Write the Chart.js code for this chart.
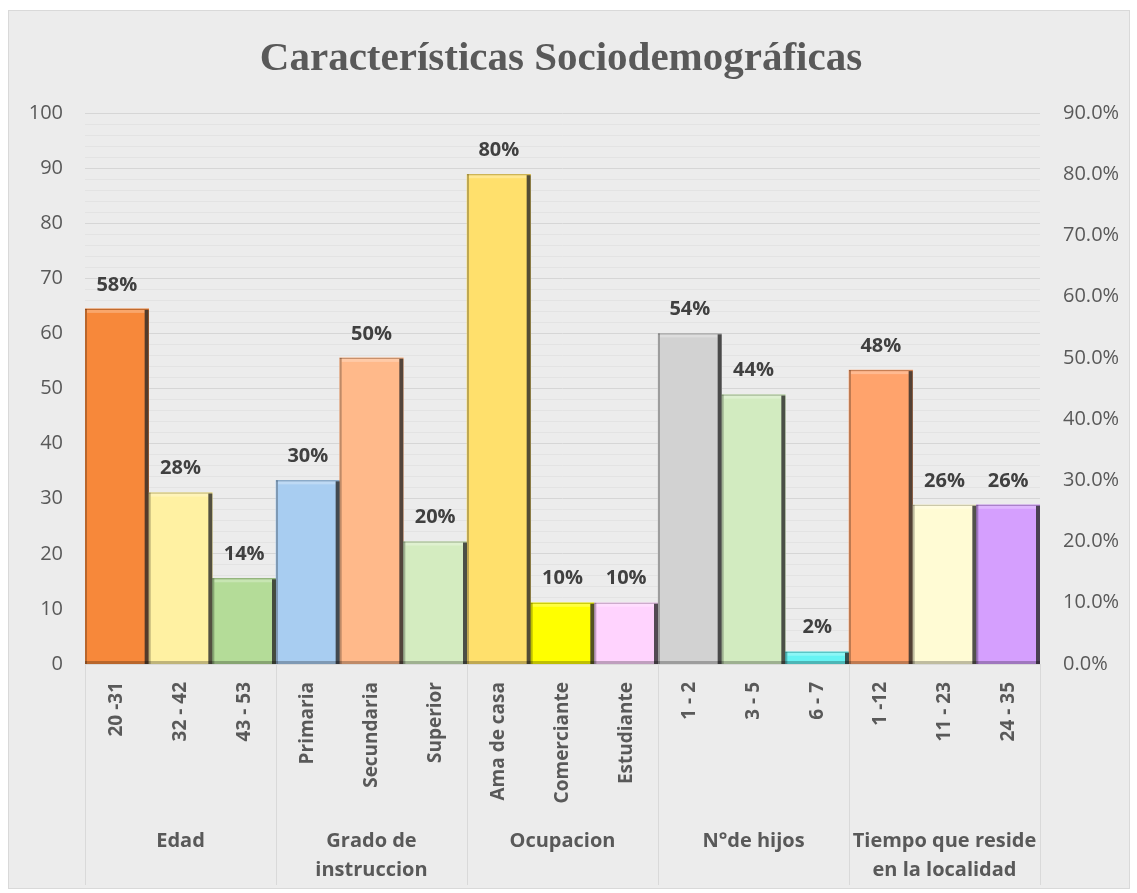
<!DOCTYPE html>
<html>
<head>
<meta charset="utf-8">
<script src="https://cdn.jsdelivr.net/npm/chart.js@4.4.0/dist/chart.umd.min.js"></script>
<style>
  body { margin: 0; background: #ffffff; }
  #caja {
    position: absolute; left: 8px; top: 10px;
    width: 1120px; height: 877px;
    background: #ececec; border: 1px solid #d9d9d9;
  }
</style>
</head>
<body>
<div id="caja"><canvas id="myChart" width="1120" height="877"></canvas></div>
<script>
// datos
const categorias = ["20 -31", "32 - 42", "43 - 53", "Primaria", "Secundaria", "Superior",
  "Ama de casa", "Comerciante", "Estudiante", "1 - 2", "3 - 5", "6 - 7", "1 -12", "11 - 23", "24 - 35"];
const porcentajes = [0.58, 0.28, 0.14, 0.30, 0.50, 0.20, 0.80, 0.10, 0.10, 0.54, 0.44, 0.02, 0.48, 0.26, 0.26];
const grupos = ["Edad", ["Grado de", "instruccion"], "Ocupacion", "N°de hijos", ["Tiempo que reside", "en la localidad"]];
const tamano_grupos = [3, 3, 3, 3, 3];
const colores = ["#f7883a", "#fff1a2", "#b4dc98", "#a8cdf1", "#ffb98a", "#d4ecc0",
  "#ffe06c", "#ffff00", "#ffd3fe", "#d2d2d2", "#d2ebc0", "#66f3f3", "#ffa36c", "#fffbd4", "#d59ffe"];

const gris = "#595959";

// efecto de bisel en las barras
const bisel = {
  id: "bisel",
  afterDatasetsDraw(chart) {
    const ctx = chart.ctx;
    chart.getDatasetMeta(0).data.forEach((bar) => {
      const w = bar.width;
      const x0 = bar.x - w / 2, x1 = bar.x + w / 2;
      const y0 = bar.y, y1 = bar.base;
      const h = y1 - y0;
      ctx.save();
      // brillo superior
      ctx.fillStyle = "rgba(255,255,255,0.25)";
      ctx.fillRect(x0 + 2, y0 + 1, w - 6, Math.min(3, h - 2));
      // sombra derecha
      ctx.fillStyle = "rgba(40,40,40,0.8)";
      ctx.fillRect(x1 - 4, y0 + 1, 4, h - 1);
      // borde izquierdo, arriba y abajo
      ctx.fillStyle = "rgba(0,0,0,0.25)";
      ctx.fillRect(x0, y0, 2, h);
      ctx.fillRect(x0, y0, w, 1);
      ctx.fillRect(x0, y1 - 3, w, 3);
      ctx.restore();
    });
  }
};

// etiquetas de porcentaje encima de cada barra
const etiquetas = {
  id: "etiquetas",
  afterDatasetsDraw(chart) {
    const ctx = chart.ctx;
    ctx.save();
    ctx.font = "bold 20px 'Open Sans'";
    ctx.fillStyle = "#404040";
    ctx.textAlign = "center";
    ctx.textBaseline = "middle";
    chart.getDatasetMeta(0).data.forEach((bar, i) => {
      ctx.fillText(Math.round(porcentajes[i] * 100) + "%", bar.x, bar.y - 24);
    });
    ctx.restore();
  }
};

// nombres de los grupos y separadores bajo el eje x
const grupos_x = {
  id: "grupos_x",
  afterDraw(chart) {
    const ctx = chart.ctx;
    const xs = chart.scales.x;
    const area = chart.chartArea;
    const paso = xs.getPixelForValue(1) - xs.getPixelForValue(0);
    ctx.save();
    ctx.strokeStyle = "#d9d9d9";
    ctx.lineWidth = 1;
    ctx.font = "bold 20px 'Open Sans'";
    ctx.fillStyle = gris;
    ctx.textAlign = "center";
    ctx.textBaseline = "middle";
    let ini = 0;
    tamano_grupos.forEach((n, g) => {
      const izq = xs.getPixelForValue(ini) - paso / 2;
      const der = xs.getPixelForValue(ini + n - 1) + paso / 2;
      [izq, der].forEach((px) => {
        ctx.beginPath();
        ctx.moveTo(Math.round(px) + 0.5, area.bottom);
        ctx.lineTo(Math.round(px) + 0.5, area.bottom + 221);
        ctx.stroke();
      });
      const lineas = Array.isArray(grupos[g]) ? grupos[g] : [grupos[g]];
      lineas.forEach((t, k) => ctx.fillText(t, (izq + der) / 2, area.bottom + 177 + k * 29));
      ini += n;
    });
    ctx.restore();
  }
};

// titulo
const titulo = {
  id: "titulo",
  afterDraw(chart) {
    const ctx = chart.ctx;
    ctx.save();
    ctx.font = "bold 41px 'Liberation Serif'";
    ctx.fillStyle = gris;
    ctx.textAlign = "center";
    ctx.textBaseline = "middle";
    ctx.fillText("Características Sociodemográficas", 552, 48);
    ctx.restore();
  }
};

const my_chart = document.getElementById("myChart");

new Chart(my_chart, {
  type: "bar",
  plugins: [bisel, etiquetas, grupos_x, titulo],
  data: {
    labels: categorias,
    datasets: [{
      data: porcentajes,
      yAxisID: "y1",
      backgroundColor: colores,
      borderWidth: 0,
      barPercentage: 1,
      categoryPercentage: 1
    }]
  },
  options: {
    responsive: false,
    animation: false,
    layout: { padding: { top: 102, bottom: 2, left: 0, right: 0 } },
    plugins: { legend: { display: false }, tooltip: { enabled: false } },
    scales: {
      x: {
        grid: { display: false },
        border: { color: "#d9d9d9" },
        ticks: {
          color: gris,
          font: { family: "Open Sans", size: 19, weight: "bold" },
          minRotation: 90, maxRotation: 90, autoSkip: false, padding: 10
        },
        afterFit: (s) => { s.height = 222; }
      },
      y: {
        position: "left",
        min: 0, max: 100,
        border: { display: false },
        grid: {
          drawTicks: false,
          color: (c) => (c.tick.value % 10 === 0 ? "#d6d6d6" : "#e3e3e3")
        },
        ticks: {
          stepSize: 2, autoSkip: false, padding: 22,
          color: gris,
          font: { family: "Open Sans", size: 20 },
          callback: (v) => (v % 10 === 0 ? v : "")
        },
        afterFit: (s) => { s.width = 76; }
      },
      y1: {
        position: "right",
        min: 0, max: 0.9,
        border: { display: false },
        grid: { display: false, drawTicks: false },
        ticks: {
          stepSize: 0.1, padding: 23,
          color: gris,
          font: { family: "Open Sans", size: 20 },
          callback: (v) => (v * 100).toFixed(1) + "%"
        },
        afterFit: (s) => { s.width = 89; }
      }
    }
  }
});
</script>
</body>
</html>
